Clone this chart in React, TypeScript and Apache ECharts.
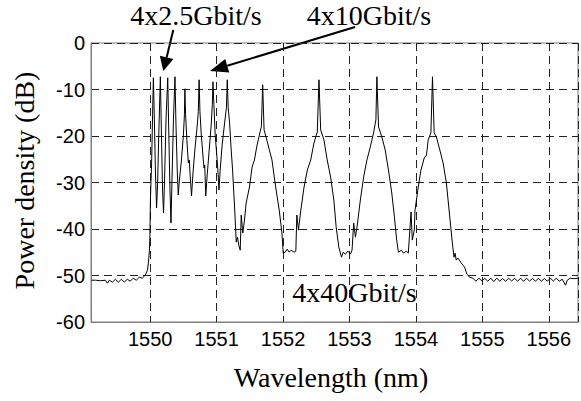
import React, { useEffect, useRef } from "react";
import * as echarts from "echarts";

// [wavelength nm, power dB]
const floorLeft: [number, number][] = [
  [1549.114, -51.01], [1549.178, -51.01], [1549.253, -51.12], [1549.327, -51.01],
  [1549.357, -51.66], [1549.387, -51.01], [1549.432, -51.44], [1549.477, -50.8],
  [1549.522, -51.44], [1549.567, -50.8], [1549.611, -51.44], [1549.656, -50.8],
  [1549.701, -51.23], [1549.746, -50.58], [1549.791, -51.01], [1549.836, -50.37],
  [1549.88, -50.58], [1549.925, -49.94], [1549.96, -48.86], [1549.975, -47.13],
  [1549.99, -44.55], [1549.997, -41.31],
];

const channels2G5: [number, number][] = [
  [1550.004, -33.77], [1550.012, -30.11], [1550.022, -26.23], [1550.037, -15.45],
  [1550.049, -7.48], [1550.064, -16.53], [1550.079, -27.31], [1550.097, -35.5],
  [1550.112, -30.54], [1550.132, -18.69], [1550.154, -7.26], [1550.169, -18.69],
  [1550.187, -31.62], [1550.202, -36.57], [1550.217, -29.46], [1550.239, -16.53],
  [1550.265, -7.48], [1550.28, -18.69], [1550.299, -31.62], [1550.314, -38.73],
  [1550.329, -29.46], [1550.351, -16.53], [1550.374, -7.26], [1550.389, -17.61],
  [1550.408, -27.31], [1550.423, -32.7],
];

const channels10G: [number, number][] = [
  [1550.441, -29.46], [1550.471, -25.15], [1550.501, -19.76], [1550.516, -15.45],
  [1550.523, -9.85], [1550.534, -15.45], [1550.553, -20.84], [1550.575, -25.8],
  [1550.59, -25.15], [1550.602, -28.38], [1550.623, -32.91], [1550.643, -28.38],
  [1550.673, -23.0], [1550.703, -18.69], [1550.725, -14.8], [1550.737, -7.91],
  [1550.75, -14.8], [1550.77, -19.76], [1550.8, -25.15], [1550.812, -26.88],
  [1550.822, -26.23], [1550.837, -32.91], [1550.859, -28.38], [1550.889, -23.0],
  [1550.919, -17.61], [1550.936, -13.29], [1550.946, -8.34], [1550.96, -13.29],
  [1550.979, -19.76], [1551.009, -25.15], [1551.024, -28.38], [1551.036, -31.62],
  [1551.054, -27.31], [1551.084, -21.92], [1551.121, -17.18], [1551.148, -13.94],
  [1551.161, -7.91], [1551.175, -13.94], [1551.196, -17.18], [1551.218, -22.56],
  [1551.241, -27.31], [1551.271, -35.28], [1551.296, -42.82], [1551.315, -41.75],
  [1551.334, -43.47], [1551.356, -44.55], [1551.371, -37.0], [1551.395, -40.88],
  [1551.42, -38.08],
];

const channels40G: [number, number][] = [
  [1551.445, -34.42], [1551.495, -30.97], [1551.535, -26.66], [1551.57, -25.15],
  [1551.604, -22.35], [1551.655, -19.12], [1551.674, -18.04], [1551.694, -8.99],
  [1551.715, -18.69], [1551.744, -20.19], [1551.794, -23.0], [1551.834, -25.15],
  [1551.868, -28.81], [1551.903, -32.26], [1551.943, -35.93], [1551.984, -40.88],
  [1552.003, -45.19], [1552.033, -44.98], [1552.063, -44.33], [1552.093, -44.98],
  [1552.122, -44.55], [1552.167, -44.98], [1552.193, -44.76], [1552.208, -37.0],
  [1552.232, -40.24], [1552.268, -35.93], [1552.317, -30.97], [1552.366, -27.31],
  [1552.417, -25.15], [1552.466, -21.49], [1552.516, -19.12], [1552.541, -7.91],
  [1552.567, -18.69], [1552.616, -20.84], [1552.665, -25.15], [1552.716, -28.81],
  [1552.765, -33.77], [1552.8, -39.59], [1552.84, -43.9], [1552.88, -46.06],
  [1552.907, -44.98], [1552.94, -45.41], [1552.975, -44.76], [1553.015, -45.41],
  [1553.039, -44.55], [1553.064, -38.73], [1553.09, -41.75], [1553.114, -39.59],
  [1553.164, -33.77], [1553.214, -28.81], [1553.263, -25.15], [1553.314, -22.35],
  [1553.363, -19.33], [1553.398, -16.53], [1553.413, -7.26], [1553.438, -18.04],
  [1553.487, -20.19], [1553.538, -23.0], [1553.587, -27.31], [1553.637, -32.26],
  [1553.677, -37.43], [1553.711, -42.39], [1553.737, -44.98], [1553.782, -44.55],
  [1553.812, -45.19], [1553.857, -44.76], [1553.886, -45.19], [1553.927, -36.36],
  [1553.946, -42.39], [1553.976, -40.24], [1553.987, -35.93], [1554.036, -30.97],
  [1554.076, -27.31], [1554.126, -24.72], [1554.16, -24.07], [1554.185, -20.84],
  [1554.226, -19.33], [1554.25, -7.26], [1554.275, -19.33], [1554.309, -20.19],
  [1554.36, -23.0], [1554.41, -25.8], [1554.459, -30.11], [1554.51, -37.43],
  [1554.549, -43.04], [1554.574, -46.06], [1554.589, -45.19], [1554.608, -46.7],
  [1554.634, -46.27], [1554.683, -47.34], [1554.734, -48.21], [1554.768, -49.72],
  [1554.809, -50.37],
];

const floorRight: [number, number][] = [
  [1554.858, -50.58], [1554.903, -51.23], [1554.948, -50.58], [1554.993, -51.15],
  [1555.037, -50.62], [1555.082, -51.23], [1555.127, -50.58], [1555.172, -51.3],
  [1555.217, -50.58], [1555.262, -51.2], [1555.306, -50.66], [1555.351, -51.23],
  [1555.396, -50.58], [1555.441, -51.18], [1555.486, -50.6], [1555.531, -51.23],
  [1555.576, -50.58], [1555.62, -51.26], [1555.665, -50.58], [1555.71, -51.2],
  [1555.755, -50.62], [1555.8, -51.23], [1555.845, -50.58], [1555.889, -51.23],
  [1555.934, -50.66], [1555.979, -51.23], [1556.024, -50.58], [1556.069, -51.18],
  [1556.114, -50.58], [1556.158, -51.23], [1556.203, -50.8], [1556.253, -52.09],
  [1556.278, -51.01], [1556.323, -50.58], [1556.383, -50.69], [1556.44, -50.58],
];

const xRange = [1549.11, 1556.44];
const yRange = [-60, 0];
const yStep = 10;

const spectrum = [
  ...floorLeft,
  ...channels2G5,
  ...channels10G,
  ...channels40G,
  ...floorRight,
];

const SERIF = '"Liberation Serif", "Times New Roman", serif';
const SANS = '"Liberation Sans", Arial, sans-serif';

function serifText(text: string, x: number, y: number, rotation = 0) {
  return {
    type: "text",
    x,
    y,
    rotation,
    style: {
      text,
      fill: "#000",
      fontSize: 28,
      fontFamily: SERIF,
      align: "center",
      verticalAlign: "middle",
      textAlign: "center",
      textVerticalAlign: "middle",
    },
  };
}

function arrow(x1: number, y1: number, x2: number, y2: number, head: number, halfW: number) {
  const dx = x2 - x1;
  const dy = y2 - y1;
  const len = Math.sqrt(dx * dx + dy * dy);
  const ux = dx / len;
  const uy = dy / len;
  const bx = x2 - ux * head;
  const by = y2 - uy * head;
  const px = -uy * halfW;
  const py = ux * halfW;
  return [
    {
      type: "line",
      shape: { x1, y1, x2: bx, y2: by },
      style: { stroke: "#000", lineWidth: 2 },
    },
    {
      type: "polygon",
      shape: {
        points: [
          [x2, y2],
          [bx + px, by + py],
          [bx - px, by - py],
        ],
      },
      style: { fill: "#000" },
    },
  ];
}

export default function App() {
  const ref = useRef<HTMLDivElement>(null);

  useEffect(() => {
    if (!ref.current) return;
    const chart = echarts.init(ref.current, null, { renderer: "svg" });
    const isInt = (v: number) => Math.abs(v - Math.round(v)) < 1e-6;
    chart.setOption({
      animation: false,
      backgroundColor: "#fff",
      grid: {
        left: 91,
        right: 0,
        top: 43,
        bottom: 79,
        show: true,
        borderColor: "#808080",
        borderWidth: 1,
        containLabel: false,
      },
      xAxis: {
        type: "value",
        min: xRange[0],
        max: xRange[1],
        splitNumber: 7,
        axisLine: { show: true, onZero: false, lineStyle: { color: "#808080", width: 1 } },
        axisTick: { show: false },
        axisLabel: {
          color: "#000",
          fontSize: 20,
          fontFamily: SANS,
          margin: 7,
          formatter: (v: number) => (isInt(v) ? String(Math.round(v)) : ""),
        },
        splitLine: {
          show: true,
          lineStyle: { color: "#222", width: 1, type: [8, 5] },
        },
      },
      yAxis: {
        type: "value",
        min: yRange[0],
        max: yRange[1],
        interval: yStep,
        axisLine: { show: true, lineStyle: { color: "#808080", width: 1 } },
        axisTick: { show: false },
        axisLabel: {
          color: "#000",
          fontSize: 20,
          fontFamily: SANS,
          margin: 6,
        },
        splitLine: {
          show: true,
          lineStyle: { color: "#222", width: 1, type: [8, 5] },
        },
      },
      series: [
        {
          type: "line",
          data: spectrum,
          showSymbol: false,
          symbol: "none",
          lineStyle: { color: "#000", width: 1 },
          z: 5,
        },
      ],
      graphic: [
        serifText("Power density (dB)", 24, 180.5, Math.PI / 2),
        serifText("Wavelength (nm)", 331, 377),
        serifText("4x2.5Gbit/s", 196, 15.5),
        serifText("4x10Gbit/s", 369, 15.5),
        serifText("4x40Gbit/s", 354.5, 292.5),
        ...arrow(173.3, 30, 163.3, 71, 14, 7),
        ...arrow(355, 27, 210, 71, 18, 7),
      ],
    });
    return () => chart.dispose();
  }, []);

  return (
    <div
      ref={ref}
      style={{ position: "absolute", left: 0, top: 0, width: 581, height: 401 }}
    />
  );
}
